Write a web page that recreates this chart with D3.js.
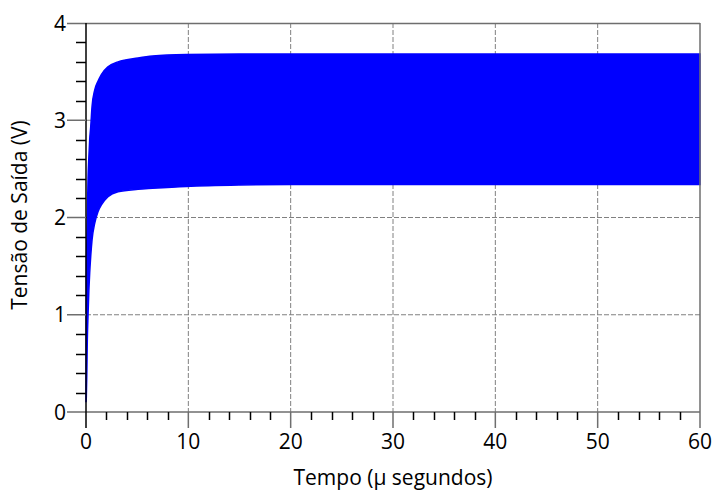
<!DOCTYPE html>
<html><head><meta charset="utf-8">
<script src="https://cdn.jsdelivr.net/npm/d3@7"></script>
<style>body{margin:0;background:#fff}svg{display:block}text{font-family:"Open Sans",sans-serif;fill:#000}</style>
</head><body><svg id="c" width="714" height="498"></svg>
<script>
const time  = [0, 0.03, 0.08, 0.13, 0.2, 0.28, 0.36, 0.46, 0.59, 0.85, 1.17, 1.5, 2.15, 3.13, 5.08, 6.5, 9.8, 15, 20, 30, 40, 50, 60];
const upper = [0.1, 1.36, 1.75, 2.0, 2.4, 2.62, 2.8, 2.93, 3.14, 3.31, 3.40, 3.47, 3.55, 3.60, 3.64, 3.66, 3.675, 3.68, 3.68, 3.68, 3.68, 3.68, 3.68];
const lower = [0.1, 0.15, 0.4, 0.75, 1.0, 1.25, 1.43, 1.60, 1.77, 1.94, 2.06, 2.13, 2.214, 2.265, 2.29, 2.30, 2.32, 2.335, 2.34, 2.34, 2.34, 2.34, 2.34];
const xTicks = [0, 10, 20, 30, 40, 50, 60];
const yTicks = [0, 1, 2, 3, 4];
const xLabel = "Tempo (μ segundos)";
const yLabel = "Tensão de Saída (V)";

const L = 86, R = 700, T = 23, B = 412;
const svg = d3.select("#c");
const x = d3.scaleLinear().domain([0, 60]).range([L, R]);
const y = d3.scaleLinear().domain([0, 4]).range([B, T]);
const grid = "#808080";

// gridlines
svg.append("g").selectAll("line").data(xTicks.filter(d => d > 0 && d < 60)).join("line")
  .attr("x1", d => x(d)).attr("x2", d => x(d)).attr("y1", T).attr("y2", B)
  .attr("stroke", grid).attr("stroke-width", 1).attr("stroke-dasharray", "5,2");
svg.append("g").selectAll("line").data(yTicks.filter(d => d > 0 && d < 4)).join("line")
  .attr("x1", L).attr("x2", R).attr("y1", d => y(d)).attr("y2", d => y(d))
  .attr("stroke", grid).attr("stroke-width", 1).attr("stroke-dasharray", "5,2");

// envelope area
const data = time.map((t, i) => ({t, u: upper[i], l: lower[i]}));
svg.append("path").datum(data)
  .attr("d", d3.area().x(d => x(d.t)).y0(d => y(d.l)).y1(d => y(d.u)).curve(d3.curveMonotoneX))
  .attr("fill", "#0000ff").attr("stroke", "#0000ff").attr("stroke-width", 1.5);

// frame
svg.append("line").attr("x1", 67).attr("x2", R).attr("y1", T + 0.5).attr("y2", T + 0.5).attr("stroke", "#6e6e6e").attr("stroke-width", 1.5);
svg.append("line").attr("x1", R).attr("x2", R).attr("y1", T).attr("y2", 428).attr("stroke", "#6e6e6e").attr("stroke-width", 1.5);
svg.append("line").attr("x1", 67).attr("x2", R).attr("y1", B).attr("y2", B).attr("stroke", "#6e6e6e").attr("stroke-width", 1.5);
svg.append("line").attr("x1", L).attr("x2", L).attr("y1", T).attr("y2", 428).attr("stroke", "#000").attr("stroke-width", 1.5);

// y minor ticks
const yMinor = d3.range(0, 4.001, 0.2).filter(v => Math.abs(v - Math.round(v)) > 0.01);
svg.append("g").selectAll("line").data(yMinor).join("line")
  .attr("x1", 76).attr("x2", L).attr("y1", d => Math.round(y(d)) + 0.5).attr("y2", d => Math.round(y(d)) + 0.5)
  .attr("stroke", "#000").attr("stroke-width", 1.5);
svg.append("g").selectAll("line").data(yTicks.filter(d => d > 0 && d < 4)).join("line")
  .attr("x1", 67).attr("x2", L).attr("y1", d => y(d)).attr("y2", d => y(d))
  .attr("stroke", "#6e6e6e").attr("stroke-width", 1.5);
// x minor ticks
const xMinor = d3.range(0, 60.001, 2).filter(v => v % 10 !== 0);
svg.append("g").selectAll("line").data(xMinor).join("line")
  .attr("x1", d => Math.round(x(d)) + 0.5).attr("x2", d => Math.round(x(d)) + 0.5).attr("y1", B).attr("y2", 420)
  .attr("stroke", "#000").attr("stroke-width", 1.5);
svg.append("g").selectAll("line").data(xTicks.filter(d => d > 0 && d < 60)).join("line")
  .attr("x1", d => x(d)).attr("x2", d => x(d)).attr("y1", B).attr("y2", 428)
  .attr("stroke", "#6e6e6e").attr("stroke-width", 1.5);

// tick labels
svg.append("g").selectAll("text").data(yTicks).join("text")
  .attr("x", 66).attr("y", d => y(d)).attr("dy", "0.36em").attr("text-anchor", "end")
  .attr("font-size", 21).text(d => d);
svg.append("g").selectAll("text").data(xTicks).join("text")
  .attr("x", d => x(d)).attr("y", 441).attr("dy", "0.36em").attr("text-anchor", "middle")
  .attr("font-size", 21).text(d => d);

// axis titles
svg.append("text").attr("x", 393).attr("y", 485).attr("text-anchor", "middle").attr("font-size", 21).text(xLabel);
svg.append("text").attr("transform", "translate(27,215) rotate(-90)").attr("text-anchor", "middle").attr("font-size", 21).text(yLabel);
</script></body></html>
